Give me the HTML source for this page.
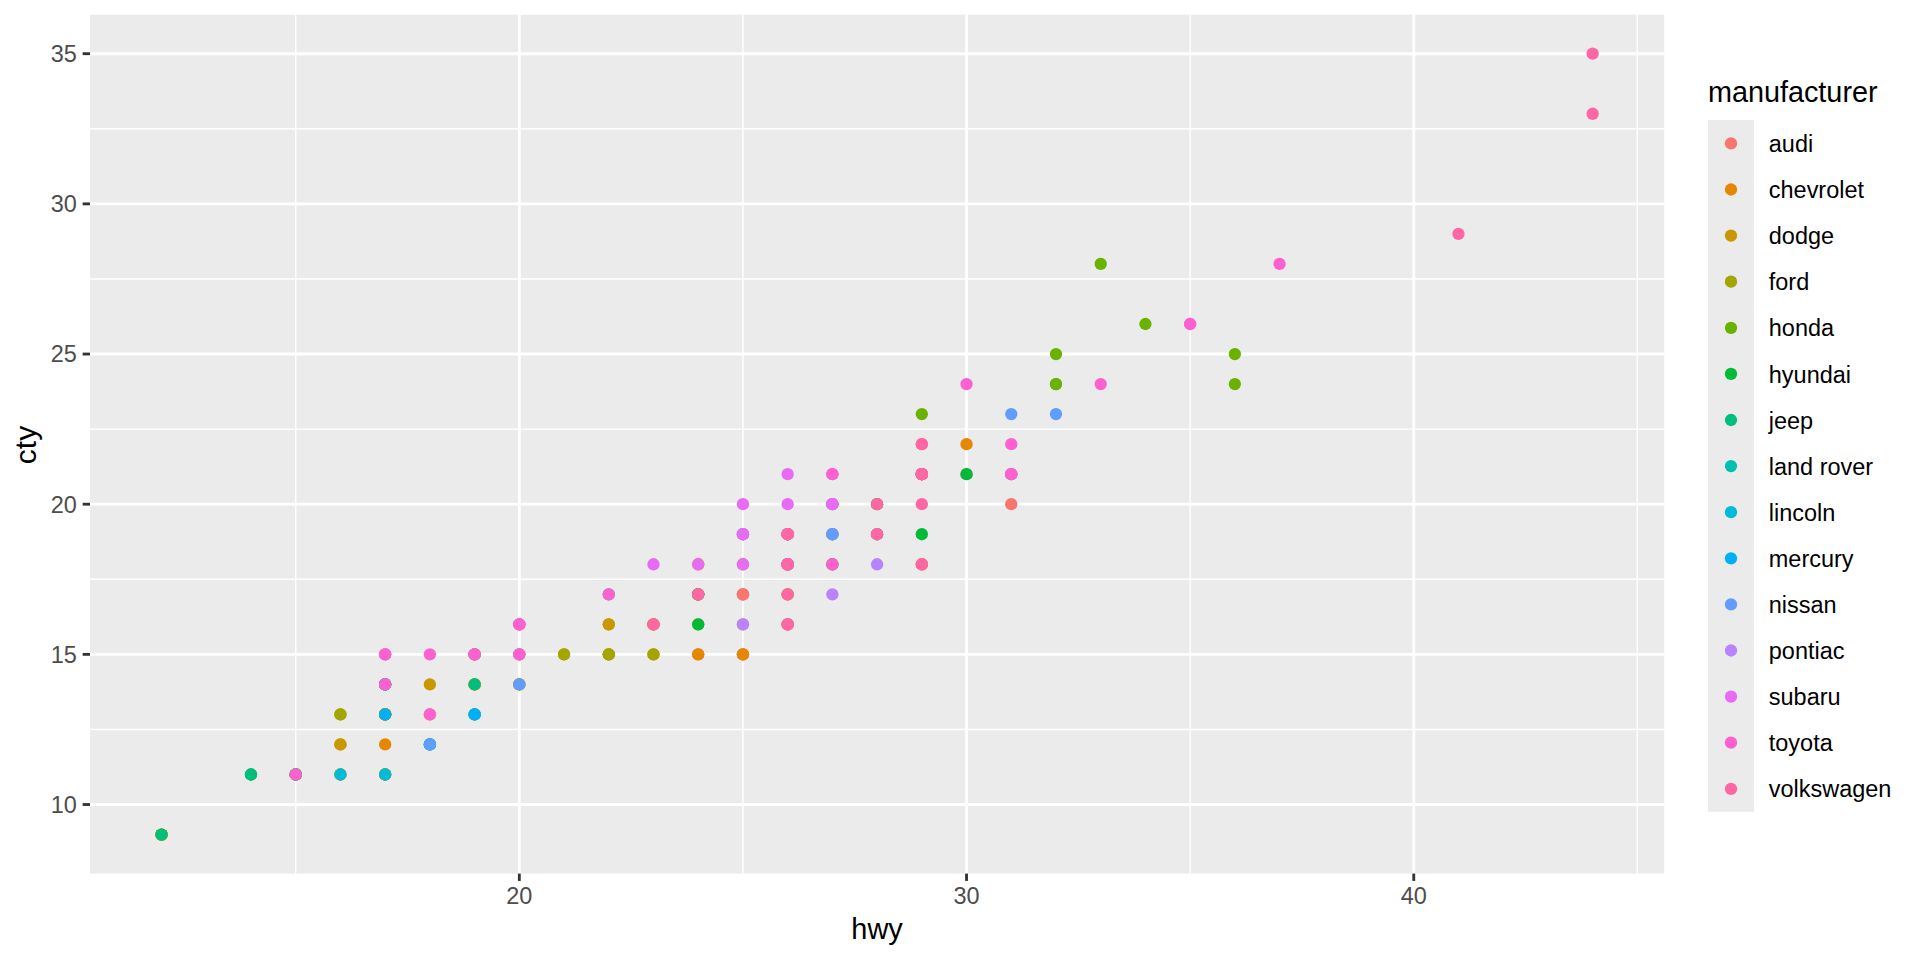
<!DOCTYPE html><html><head><meta charset="utf-8"><style>html,body{margin:0;padding:0;background:#fff;width:1920px;height:960px;overflow:hidden}svg{display:block}text{font-family:"Liberation Sans",sans-serif}</style></head><body><svg width="1920" height="960" viewBox="0 0 1920 960"><rect width="1920" height="960" fill="#fff"/><rect x="90" y="14.67" width="1574.2" height="858.93" fill="#EBEBEB"/><g stroke="#fff"><line x1="90" x2="1664.2" y1="729.44" y2="729.44" stroke-width="1.42"/><line x1="90" x2="1664.2" y1="579.28" y2="579.28" stroke-width="1.42"/><line x1="90" x2="1664.2" y1="429.12" y2="429.12" stroke-width="1.42"/><line x1="90" x2="1664.2" y1="278.96" y2="278.96" stroke-width="1.42"/><line x1="90" x2="1664.2" y1="128.79" y2="128.79" stroke-width="1.42"/><line y1="14.67" y2="873.6" x1="295.72" x2="295.72" stroke-width="1.42"/><line y1="14.67" y2="873.6" x1="742.94" x2="742.94" stroke-width="1.42"/><line y1="14.67" y2="873.6" x1="1190.15" x2="1190.15" stroke-width="1.42"/><line y1="14.67" y2="873.6" x1="1637.37" x2="1637.37" stroke-width="1.42"/><line x1="90" x2="1664.2" y1="804.53" y2="804.53" stroke-width="2.845"/><line x1="90" x2="1664.2" y1="654.36" y2="654.36" stroke-width="2.845"/><line x1="90" x2="1664.2" y1="504.2" y2="504.2" stroke-width="2.845"/><line x1="90" x2="1664.2" y1="354.04" y2="354.04" stroke-width="2.845"/><line x1="90" x2="1664.2" y1="203.87" y2="203.87" stroke-width="2.845"/><line x1="90" x2="1664.2" y1="53.71" y2="53.71" stroke-width="2.845"/><line y1="14.67" y2="873.6" x1="519.33" x2="519.33" stroke-width="2.845"/><line y1="14.67" y2="873.6" x1="966.54" x2="966.54" stroke-width="2.845"/><line y1="14.67" y2="873.6" x1="1413.76" x2="1413.76" stroke-width="2.845"/></g><g><circle cx="921.82" cy="564.27" r="6.16" fill="#F8766D"/><circle cx="921.82" cy="474.17" r="6.16" fill="#F8766D"/><circle cx="1011.26" cy="504.2" r="6.16" fill="#F8766D"/><circle cx="966.54" cy="474.17" r="6.16" fill="#F8766D"/><circle cx="787.66" cy="624.33" r="6.16" fill="#F8766D"/><circle cx="787.66" cy="564.27" r="6.16" fill="#F8766D"/><circle cx="832.38" cy="564.27" r="6.16" fill="#F8766D"/><circle cx="787.66" cy="564.27" r="6.16" fill="#F8766D"/><circle cx="742.94" cy="624.33" r="6.16" fill="#F8766D"/><circle cx="877.1" cy="504.2" r="6.16" fill="#F8766D"/><circle cx="832.38" cy="534.23" r="6.16" fill="#F8766D"/><circle cx="742.94" cy="654.36" r="6.16" fill="#F8766D"/><circle cx="742.94" cy="594.3" r="6.16" fill="#F8766D"/><circle cx="742.94" cy="594.3" r="6.16" fill="#F8766D"/><circle cx="742.94" cy="654.36" r="6.16" fill="#F8766D"/><circle cx="698.21" cy="654.36" r="6.16" fill="#F8766D"/><circle cx="742.94" cy="594.3" r="6.16" fill="#F8766D"/><circle cx="653.49" cy="624.33" r="6.16" fill="#F8766D"/><circle cx="519.33" cy="684.4" r="6.16" fill="#E58700"/><circle cx="295.72" cy="774.49" r="6.16" fill="#E58700"/><circle cx="519.33" cy="684.4" r="6.16" fill="#E58700"/><circle cx="385.16" cy="714.43" r="6.16" fill="#E58700"/><circle cx="385.16" cy="744.46" r="6.16" fill="#E58700"/><circle cx="787.66" cy="624.33" r="6.16" fill="#E58700"/><circle cx="653.49" cy="654.36" r="6.16" fill="#E58700"/><circle cx="787.66" cy="624.33" r="6.16" fill="#E58700"/><circle cx="742.94" cy="654.36" r="6.16" fill="#E58700"/><circle cx="698.21" cy="654.36" r="6.16" fill="#E58700"/><circle cx="474.61" cy="684.4" r="6.16" fill="#E58700"/><circle cx="251" cy="774.49" r="6.16" fill="#E58700"/><circle cx="295.72" cy="774.49" r="6.16" fill="#E58700"/><circle cx="385.16" cy="684.4" r="6.16" fill="#E58700"/><circle cx="832.38" cy="534.23" r="6.16" fill="#E58700"/><circle cx="966.54" cy="444.13" r="6.16" fill="#E58700"/><circle cx="787.66" cy="564.27" r="6.16" fill="#E58700"/><circle cx="921.82" cy="564.27" r="6.16" fill="#E58700"/><circle cx="787.66" cy="594.3" r="6.16" fill="#E58700"/><circle cx="698.21" cy="564.27" r="6.16" fill="#C99800"/><circle cx="698.21" cy="594.3" r="6.16" fill="#C99800"/><circle cx="608.77" cy="624.33" r="6.16" fill="#C99800"/><circle cx="608.77" cy="624.33" r="6.16" fill="#C99800"/><circle cx="698.21" cy="594.3" r="6.16" fill="#C99800"/><circle cx="698.21" cy="594.3" r="6.16" fill="#C99800"/><circle cx="385.16" cy="774.49" r="6.16" fill="#C99800"/><circle cx="608.77" cy="654.36" r="6.16" fill="#C99800"/><circle cx="564.05" cy="654.36" r="6.16" fill="#C99800"/><circle cx="653.49" cy="624.33" r="6.16" fill="#C99800"/><circle cx="653.49" cy="624.33" r="6.16" fill="#C99800"/><circle cx="474.61" cy="654.36" r="6.16" fill="#C99800"/><circle cx="429.88" cy="684.4" r="6.16" fill="#C99800"/><circle cx="385.16" cy="714.43" r="6.16" fill="#C99800"/><circle cx="385.16" cy="684.4" r="6.16" fill="#C99800"/><circle cx="474.61" cy="684.4" r="6.16" fill="#C99800"/><circle cx="474.61" cy="684.4" r="6.16" fill="#C99800"/><circle cx="161.55" cy="834.56" r="6.16" fill="#C99800"/><circle cx="385.16" cy="774.49" r="6.16" fill="#C99800"/><circle cx="295.72" cy="774.49" r="6.16" fill="#C99800"/><circle cx="385.16" cy="714.43" r="6.16" fill="#C99800"/><circle cx="385.16" cy="714.43" r="6.16" fill="#C99800"/><circle cx="161.55" cy="834.56" r="6.16" fill="#C99800"/><circle cx="385.16" cy="714.43" r="6.16" fill="#C99800"/><circle cx="340.44" cy="774.49" r="6.16" fill="#C99800"/><circle cx="429.88" cy="714.43" r="6.16" fill="#C99800"/><circle cx="295.72" cy="774.49" r="6.16" fill="#C99800"/><circle cx="340.44" cy="744.46" r="6.16" fill="#C99800"/><circle cx="161.55" cy="834.56" r="6.16" fill="#C99800"/><circle cx="385.16" cy="714.43" r="6.16" fill="#C99800"/><circle cx="385.16" cy="714.43" r="6.16" fill="#C99800"/><circle cx="340.44" cy="744.46" r="6.16" fill="#C99800"/><circle cx="161.55" cy="834.56" r="6.16" fill="#C99800"/><circle cx="295.72" cy="774.49" r="6.16" fill="#C99800"/><circle cx="340.44" cy="774.49" r="6.16" fill="#C99800"/><circle cx="385.16" cy="714.43" r="6.16" fill="#C99800"/><circle cx="295.72" cy="774.49" r="6.16" fill="#C99800"/><circle cx="385.16" cy="774.49" r="6.16" fill="#A3A500"/><circle cx="385.16" cy="774.49" r="6.16" fill="#A3A500"/><circle cx="429.88" cy="744.46" r="6.16" fill="#A3A500"/><circle cx="385.16" cy="684.4" r="6.16" fill="#A3A500"/><circle cx="474.61" cy="654.36" r="6.16" fill="#A3A500"/><circle cx="385.16" cy="684.4" r="6.16" fill="#A3A500"/><circle cx="474.61" cy="714.43" r="6.16" fill="#A3A500"/><circle cx="474.61" cy="714.43" r="6.16" fill="#A3A500"/><circle cx="385.16" cy="714.43" r="6.16" fill="#A3A500"/><circle cx="385.16" cy="684.4" r="6.16" fill="#A3A500"/><circle cx="385.16" cy="684.4" r="6.16" fill="#A3A500"/><circle cx="340.44" cy="714.43" r="6.16" fill="#A3A500"/><circle cx="340.44" cy="714.43" r="6.16" fill="#A3A500"/><circle cx="385.16" cy="714.43" r="6.16" fill="#A3A500"/><circle cx="295.72" cy="774.49" r="6.16" fill="#A3A500"/><circle cx="385.16" cy="714.43" r="6.16" fill="#A3A500"/><circle cx="787.66" cy="564.27" r="6.16" fill="#A3A500"/><circle cx="742.94" cy="564.27" r="6.16" fill="#A3A500"/><circle cx="787.66" cy="594.3" r="6.16" fill="#A3A500"/><circle cx="698.21" cy="624.33" r="6.16" fill="#A3A500"/><circle cx="564.05" cy="654.36" r="6.16" fill="#A3A500"/><circle cx="608.77" cy="654.36" r="6.16" fill="#A3A500"/><circle cx="653.49" cy="654.36" r="6.16" fill="#A3A500"/><circle cx="608.77" cy="654.36" r="6.16" fill="#A3A500"/><circle cx="519.33" cy="684.4" r="6.16" fill="#A3A500"/><circle cx="1100.71" cy="263.94" r="6.16" fill="#6BB100"/><circle cx="1055.99" cy="384.07" r="6.16" fill="#6BB100"/><circle cx="1055.99" cy="354.04" r="6.16" fill="#6BB100"/><circle cx="921.82" cy="414.1" r="6.16" fill="#6BB100"/><circle cx="1055.99" cy="384.07" r="6.16" fill="#6BB100"/><circle cx="1145.43" cy="324" r="6.16" fill="#6BB100"/><circle cx="1234.87" cy="354.04" r="6.16" fill="#6BB100"/><circle cx="1234.87" cy="384.07" r="6.16" fill="#6BB100"/><circle cx="921.82" cy="474.17" r="6.16" fill="#6BB100"/><circle cx="787.66" cy="564.27" r="6.16" fill="#00BA38"/><circle cx="832.38" cy="564.27" r="6.16" fill="#00BA38"/><circle cx="966.54" cy="474.17" r="6.16" fill="#00BA38"/><circle cx="1011.26" cy="474.17" r="6.16" fill="#00BA38"/><circle cx="787.66" cy="564.27" r="6.16" fill="#00BA38"/><circle cx="787.66" cy="564.27" r="6.16" fill="#00BA38"/><circle cx="877.1" cy="534.23" r="6.16" fill="#00BA38"/><circle cx="787.66" cy="534.23" r="6.16" fill="#00BA38"/><circle cx="921.82" cy="534.23" r="6.16" fill="#00BA38"/><circle cx="877.1" cy="504.2" r="6.16" fill="#00BA38"/><circle cx="832.38" cy="504.2" r="6.16" fill="#00BA38"/><circle cx="698.21" cy="594.3" r="6.16" fill="#00BA38"/><circle cx="698.21" cy="624.33" r="6.16" fill="#00BA38"/><circle cx="698.21" cy="594.3" r="6.16" fill="#00BA38"/><circle cx="608.77" cy="594.3" r="6.16" fill="#00BF7D"/><circle cx="474.61" cy="654.36" r="6.16" fill="#00BF7D"/><circle cx="519.33" cy="654.36" r="6.16" fill="#00BF7D"/><circle cx="385.16" cy="684.4" r="6.16" fill="#00BF7D"/><circle cx="161.55" cy="834.56" r="6.16" fill="#00BF7D"/><circle cx="474.61" cy="684.4" r="6.16" fill="#00BF7D"/><circle cx="251" cy="774.49" r="6.16" fill="#00BF7D"/><circle cx="251" cy="774.49" r="6.16" fill="#00BF7D"/><circle cx="295.72" cy="774.49" r="6.16" fill="#00C0AF"/><circle cx="429.88" cy="744.46" r="6.16" fill="#00C0AF"/><circle cx="429.88" cy="744.46" r="6.16" fill="#00C0AF"/><circle cx="295.72" cy="774.49" r="6.16" fill="#00C0AF"/><circle cx="385.16" cy="774.49" r="6.16" fill="#00BCD8"/><circle cx="340.44" cy="774.49" r="6.16" fill="#00BCD8"/><circle cx="429.88" cy="744.46" r="6.16" fill="#00BCD8"/><circle cx="385.16" cy="684.4" r="6.16" fill="#00B0F6"/><circle cx="474.61" cy="714.43" r="6.16" fill="#00B0F6"/><circle cx="474.61" cy="714.43" r="6.16" fill="#00B0F6"/><circle cx="385.16" cy="714.43" r="6.16" fill="#00B0F6"/><circle cx="921.82" cy="474.17" r="6.16" fill="#619CFF"/><circle cx="832.38" cy="534.23" r="6.16" fill="#619CFF"/><circle cx="1011.26" cy="414.1" r="6.16" fill="#619CFF"/><circle cx="1055.99" cy="414.1" r="6.16" fill="#619CFF"/><circle cx="832.38" cy="534.23" r="6.16" fill="#619CFF"/><circle cx="787.66" cy="534.23" r="6.16" fill="#619CFF"/><circle cx="787.66" cy="564.27" r="6.16" fill="#619CFF"/><circle cx="742.94" cy="534.23" r="6.16" fill="#619CFF"/><circle cx="742.94" cy="534.23" r="6.16" fill="#619CFF"/><circle cx="385.16" cy="684.4" r="6.16" fill="#619CFF"/><circle cx="385.16" cy="654.36" r="6.16" fill="#619CFF"/><circle cx="519.33" cy="684.4" r="6.16" fill="#619CFF"/><circle cx="429.88" cy="744.46" r="6.16" fill="#619CFF"/><circle cx="787.66" cy="564.27" r="6.16" fill="#B983FF"/><circle cx="787.66" cy="624.33" r="6.16" fill="#B983FF"/><circle cx="832.38" cy="594.3" r="6.16" fill="#B983FF"/><circle cx="877.1" cy="564.27" r="6.16" fill="#B983FF"/><circle cx="742.94" cy="624.33" r="6.16" fill="#B983FF"/><circle cx="742.94" cy="564.27" r="6.16" fill="#E76BF3"/><circle cx="698.21" cy="564.27" r="6.16" fill="#E76BF3"/><circle cx="832.38" cy="504.2" r="6.16" fill="#E76BF3"/><circle cx="742.94" cy="534.23" r="6.16" fill="#E76BF3"/><circle cx="787.66" cy="504.2" r="6.16" fill="#E76BF3"/><circle cx="653.49" cy="564.27" r="6.16" fill="#E76BF3"/><circle cx="787.66" cy="474.17" r="6.16" fill="#E76BF3"/><circle cx="787.66" cy="534.23" r="6.16" fill="#E76BF3"/><circle cx="787.66" cy="534.23" r="6.16" fill="#E76BF3"/><circle cx="787.66" cy="534.23" r="6.16" fill="#E76BF3"/><circle cx="742.94" cy="504.2" r="6.16" fill="#E76BF3"/><circle cx="832.38" cy="504.2" r="6.16" fill="#E76BF3"/><circle cx="742.94" cy="534.23" r="6.16" fill="#E76BF3"/><circle cx="832.38" cy="504.2" r="6.16" fill="#E76BF3"/><circle cx="519.33" cy="654.36" r="6.16" fill="#FD61D1"/><circle cx="519.33" cy="624.33" r="6.16" fill="#FD61D1"/><circle cx="474.61" cy="654.36" r="6.16" fill="#FD61D1"/><circle cx="385.16" cy="654.36" r="6.16" fill="#FD61D1"/><circle cx="519.33" cy="624.33" r="6.16" fill="#FD61D1"/><circle cx="385.16" cy="684.4" r="6.16" fill="#FD61D1"/><circle cx="921.82" cy="474.17" r="6.16" fill="#FD61D1"/><circle cx="832.38" cy="474.17" r="6.16" fill="#FD61D1"/><circle cx="1011.26" cy="474.17" r="6.16" fill="#FD61D1"/><circle cx="1011.26" cy="474.17" r="6.16" fill="#FD61D1"/><circle cx="787.66" cy="564.27" r="6.16" fill="#FD61D1"/><circle cx="787.66" cy="564.27" r="6.16" fill="#FD61D1"/><circle cx="877.1" cy="534.23" r="6.16" fill="#FD61D1"/><circle cx="832.38" cy="474.17" r="6.16" fill="#FD61D1"/><circle cx="921.82" cy="474.17" r="6.16" fill="#FD61D1"/><circle cx="1011.26" cy="474.17" r="6.16" fill="#FD61D1"/><circle cx="1011.26" cy="444.13" r="6.16" fill="#FD61D1"/><circle cx="787.66" cy="564.27" r="6.16" fill="#FD61D1"/><circle cx="787.66" cy="564.27" r="6.16" fill="#FD61D1"/><circle cx="832.38" cy="564.27" r="6.16" fill="#FD61D1"/><circle cx="966.54" cy="384.07" r="6.16" fill="#FD61D1"/><circle cx="1100.71" cy="384.07" r="6.16" fill="#FD61D1"/><circle cx="1190.15" cy="324" r="6.16" fill="#FD61D1"/><circle cx="1279.59" cy="263.94" r="6.16" fill="#FD61D1"/><circle cx="1190.15" cy="324" r="6.16" fill="#FD61D1"/><circle cx="295.72" cy="774.49" r="6.16" fill="#FD61D1"/><circle cx="429.88" cy="714.43" r="6.16" fill="#FD61D1"/><circle cx="519.33" cy="654.36" r="6.16" fill="#FD61D1"/><circle cx="519.33" cy="624.33" r="6.16" fill="#FD61D1"/><circle cx="608.77" cy="594.3" r="6.16" fill="#FD61D1"/><circle cx="385.16" cy="654.36" r="6.16" fill="#FD61D1"/><circle cx="474.61" cy="654.36" r="6.16" fill="#FD61D1"/><circle cx="429.88" cy="654.36" r="6.16" fill="#FD61D1"/><circle cx="519.33" cy="624.33" r="6.16" fill="#FD61D1"/><circle cx="787.66" cy="534.23" r="6.16" fill="#FF67A4"/><circle cx="921.82" cy="474.17" r="6.16" fill="#FF67A4"/><circle cx="921.82" cy="474.17" r="6.16" fill="#FF67A4"/><circle cx="921.82" cy="444.13" r="6.16" fill="#FF67A4"/><circle cx="698.21" cy="594.3" r="6.16" fill="#FF67A4"/><circle cx="1592.65" cy="113.78" r="6.16" fill="#FF67A4"/><circle cx="921.82" cy="474.17" r="6.16" fill="#FF67A4"/><circle cx="787.66" cy="534.23" r="6.16" fill="#FF67A4"/><circle cx="921.82" cy="444.13" r="6.16" fill="#FF67A4"/><circle cx="921.82" cy="474.17" r="6.16" fill="#FF67A4"/><circle cx="921.82" cy="474.17" r="6.16" fill="#FF67A4"/><circle cx="921.82" cy="474.17" r="6.16" fill="#FF67A4"/><circle cx="653.49" cy="624.33" r="6.16" fill="#FF67A4"/><circle cx="698.21" cy="594.3" r="6.16" fill="#FF67A4"/><circle cx="1592.65" cy="53.71" r="6.16" fill="#FF67A4"/><circle cx="1458.48" cy="233.91" r="6.16" fill="#FF67A4"/><circle cx="921.82" cy="474.17" r="6.16" fill="#FF67A4"/><circle cx="787.66" cy="534.23" r="6.16" fill="#FF67A4"/><circle cx="877.1" cy="504.2" r="6.16" fill="#FF67A4"/><circle cx="921.82" cy="504.2" r="6.16" fill="#FF67A4"/><circle cx="921.82" cy="474.17" r="6.16" fill="#FF67A4"/><circle cx="921.82" cy="564.27" r="6.16" fill="#FF67A4"/><circle cx="877.1" cy="534.23" r="6.16" fill="#FF67A4"/><circle cx="921.82" cy="474.17" r="6.16" fill="#FF67A4"/><circle cx="787.66" cy="624.33" r="6.16" fill="#FF67A4"/><circle cx="787.66" cy="564.27" r="6.16" fill="#FF67A4"/><circle cx="787.66" cy="594.3" r="6.16" fill="#FF67A4"/></g><g stroke="#333333" stroke-width="2.845"><line x1="82.67" x2="90" y1="804.53" y2="804.53"/><line x1="82.67" x2="90" y1="654.36" y2="654.36"/><line x1="82.67" x2="90" y1="504.2" y2="504.2"/><line x1="82.67" x2="90" y1="354.04" y2="354.04"/><line x1="82.67" x2="90" y1="203.87" y2="203.87"/><line x1="82.67" x2="90" y1="53.71" y2="53.71"/><line y1="873.6" y2="880.93" x1="519.33" x2="519.33"/><line y1="873.6" y2="880.93" x1="966.54" x2="966.54"/><line y1="873.6" y2="880.93" x1="1413.76" x2="1413.76"/></g><g fill="#4D4D4D" font-size="23.47px"><text x="76.8" y="812.93" text-anchor="end">10</text><text x="76.8" y="662.76" text-anchor="end">15</text><text x="76.8" y="512.6" text-anchor="end">20</text><text x="76.8" y="362.44" text-anchor="end">25</text><text x="76.8" y="212.27" text-anchor="end">30</text><text x="76.8" y="62.11" text-anchor="end">35</text><text x="519.33" y="904" text-anchor="middle">20</text><text x="966.54" y="904" text-anchor="middle">30</text><text x="1413.76" y="904" text-anchor="middle">40</text></g><text x="877.1" y="939" text-anchor="middle" font-size="29.33px" fill="#000" textLength="51.5" lengthAdjust="spacingAndGlyphs">hwy</text><text transform="translate(36.4 445) rotate(-90)" x="0" y="0" text-anchor="middle" font-size="29.33px" fill="#000" textLength="38.3" lengthAdjust="spacingAndGlyphs">cty</text><text x="1707.9" y="101.7" font-size="29.33px" fill="#000" textLength="169.7" lengthAdjust="spacingAndGlyphs">manufacturer</text><rect x="1708" y="120" width="46" height="691.75" fill="#EBEBEB"/><g><circle cx="1731" cy="143.4" r="6.16" fill="#F8766D"/><text x="1768.8" y="152" font-size="23.47px" fill="#000">audi</text><circle cx="1731" cy="189.5" r="6.16" fill="#E58700"/><text x="1768.8" y="198.1" font-size="23.47px" fill="#000">chevrolet</text><circle cx="1731" cy="235.6" r="6.16" fill="#C99800"/><text x="1768.8" y="244.2" font-size="23.47px" fill="#000">dodge</text><circle cx="1731" cy="281.7" r="6.16" fill="#A3A500"/><text x="1768.8" y="290.3" font-size="23.47px" fill="#000">ford</text><circle cx="1731" cy="327.8" r="6.16" fill="#6BB100"/><text x="1768.8" y="336.4" font-size="23.47px" fill="#000">honda</text><circle cx="1731" cy="373.9" r="6.16" fill="#00BA38"/><text x="1768.8" y="382.5" font-size="23.47px" fill="#000">hyundai</text><circle cx="1731" cy="420" r="6.16" fill="#00BF7D"/><text x="1768.8" y="428.6" font-size="23.47px" fill="#000">jeep</text><circle cx="1731" cy="466.1" r="6.16" fill="#00C0AF"/><text x="1768.8" y="474.7" font-size="23.47px" fill="#000">land rover</text><circle cx="1731" cy="512.2" r="6.16" fill="#00BCD8"/><text x="1768.8" y="520.8" font-size="23.47px" fill="#000">lincoln</text><circle cx="1731" cy="558.3" r="6.16" fill="#00B0F6"/><text x="1768.8" y="566.9" font-size="23.47px" fill="#000">mercury</text><circle cx="1731" cy="604.4" r="6.16" fill="#619CFF"/><text x="1768.8" y="613" font-size="23.47px" fill="#000">nissan</text><circle cx="1731" cy="650.5" r="6.16" fill="#B983FF"/><text x="1768.8" y="659.1" font-size="23.47px" fill="#000">pontiac</text><circle cx="1731" cy="696.6" r="6.16" fill="#E76BF3"/><text x="1768.8" y="705.2" font-size="23.47px" fill="#000">subaru</text><circle cx="1731" cy="742.7" r="6.16" fill="#FD61D1"/><text x="1768.8" y="751.3" font-size="23.47px" fill="#000">toyota</text><circle cx="1731" cy="788.8" r="6.16" fill="#FF67A4"/><text x="1768.8" y="797.4" font-size="23.47px" fill="#000">volkswagen</text></g></svg></body></html>
